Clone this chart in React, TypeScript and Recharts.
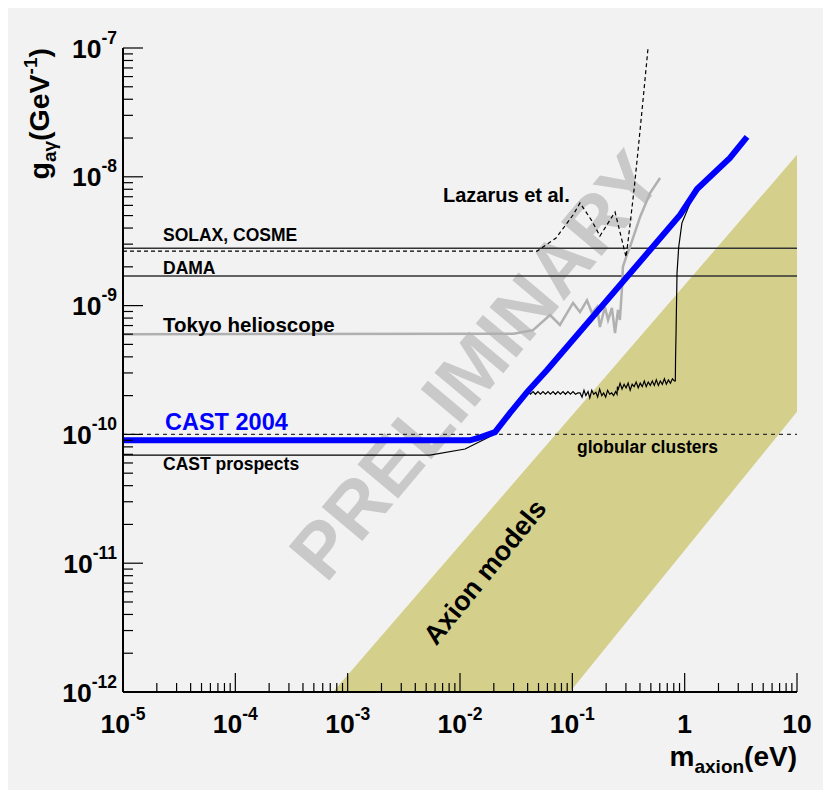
import React from "react";
import {
  ComposedChart,
  Area,
  Line,
  XAxis,
  YAxis,
  ReferenceLine,
  Customized,
} from "recharts";

// axis ticks
const xDecades = [1e-5, 1e-4, 1e-3, 1e-2, 1e-1, 1, 10];
const xTickLabels = [
  ["10", "-5"],
  ["10", "-4"],
  ["10", "-3"],
  ["10", "-2"],
  ["10", "-1"],
  ["1", ""],
  ["10", ""],
];
const yDecades = [1e-12, 1e-11, 1e-10, 1e-9, 1e-8, 1e-7];
const yTickLabels = [
  ["10", "-12"],
  ["10", "-11"],
  ["10", "-10"],
  ["10", "-9"],
  ["10", "-8"],
  ["10", "-7"],
];
const minorFactors = [2, 3, 4, 5, 6, 7, 8, 9];

// horizontal limits (GeV^-1)
const solaxLimit = 2.79e-9;
const damaLimit = 1.7e-9;
const globularLimit = 1.0e-10;

// axion models band: [lower, upper]
const axionBand = [
  { m: 7.4e-4, g: [1e-12, 1e-12] },
  { m: 0.095, g: [1e-12, 1.34e-10] },
  { m: 10, g: [1.5e-10, 1.48e-8] },
];

const castBlue = [
  { m: 1e-5, g: 9.0e-11 },
  { m: 0.0123, g: 9.0e-11 },
  { m: 0.0151, g: 9.5e-11 },
  { m: 0.0205, g: 1.04e-10 },
  { m: 0.0279, g: 1.47e-10 },
  { m: 0.0395, g: 2.13e-10 },
  { m: 0.0596, g: 3.16e-10 },
  { m: 0.492, g: 2.7e-9 },
  { m: 0.91, g: 5.05e-9 },
  { m: 1.29, g: 8.04e-9 },
  { m: 2.53, g: 1.4e-8 },
  { m: 3.59, g: 2.04e-8 },
];

const castProspects = [
  { m: 1e-5, g: 6.9e-11 },
  { m: 0.0054, g: 6.9e-11 },
  { m: 0.0111, g: 7.7e-11 },
  { m: 0.0197, g: 9.9e-11 },
  { m: 0.029, g: 1.6e-10 },
  { m: 0.0395, g: 2.1e-10 },
  { m: 0.0403, g: 2.15e-10 },
  { m: 0.0424, g: 2.05e-10 },
  { m: 0.0447, g: 2.15e-10 },
  { m: 0.047, g: 2.05e-10 },
  { m: 0.0494, g: 2.15e-10 },
  { m: 0.052, g: 2.05e-10 },
  { m: 0.0548, g: 2.15e-10 },
  { m: 0.0577, g: 2.05e-10 },
  { m: 0.0607, g: 2.15e-10 },
  { m: 0.0638, g: 2.05e-10 },
  { m: 0.0673, g: 2.15e-10 },
  { m: 0.0708, g: 2.05e-10 },
  { m: 0.0745, g: 2.15e-10 },
  { m: 0.0783, g: 2.05e-10 },
  { m: 0.0826, g: 2.15e-10 },
  { m: 0.0869, g: 2.05e-10 },
  { m: 0.0914, g: 2.15e-10 },
  { m: 0.0962, g: 2.05e-10 },
  { m: 0.1014, g: 2.15e-10 },
  { m: 0.1067, g: 2.05e-10 },
  { m: 0.1122, g: 2.1e-10 },
  { m: 0.117, g: 2.1e-10 },
  { m: 0.122, g: 1.95e-10 },
  { m: 0.127, g: 2.2e-10 },
  { m: 0.132, g: 2.0e-10 },
  { m: 0.138, g: 2.15e-10 },
  { m: 0.143, g: 1.92e-10 },
  { m: 0.149, g: 2.2e-10 },
  { m: 0.155, g: 2.05e-10 },
  { m: 0.162, g: 2.12e-10 },
  { m: 0.168, g: 1.95e-10 },
  { m: 0.175, g: 2.25e-10 },
  { m: 0.183, g: 2.0e-10 },
  { m: 0.19, g: 2.1e-10 },
  { m: 0.198, g: 1.95e-10 },
  { m: 0.206, g: 2.2e-10 },
  { m: 0.215, g: 2.05e-10 },
  { m: 0.224, g: 2.1e-10 },
  { m: 0.233, g: 2.0e-10 },
  { m: 0.243, g: 2.15e-10 },
  { m: 0.25, g: 2.05e-10 },
  { m: 0.252, g: 2.35e-10 },
  { m: 0.255, g: 2.2e-10 },
  { m: 0.266, g: 2.5e-10 },
  { m: 0.277, g: 2.25e-10 },
  { m: 0.289, g: 2.45e-10 },
  { m: 0.301, g: 2.3e-10 },
  { m: 0.314, g: 2.5e-10 },
  { m: 0.327, g: 2.2e-10 },
  { m: 0.341, g: 2.45e-10 },
  { m: 0.355, g: 2.35e-10 },
  { m: 0.37, g: 2.55e-10 },
  { m: 0.386, g: 2.3e-10 },
  { m: 0.402, g: 2.5e-10 },
  { m: 0.419, g: 2.35e-10 },
  { m: 0.437, g: 2.6e-10 },
  { m: 0.455, g: 2.35e-10 },
  { m: 0.474, g: 2.55e-10 },
  { m: 0.494, g: 2.4e-10 },
  { m: 0.515, g: 2.6e-10 },
  { m: 0.537, g: 2.4e-10 },
  { m: 0.559, g: 2.65e-10 },
  { m: 0.583, g: 2.4e-10 },
  { m: 0.607, g: 2.6e-10 },
  { m: 0.633, g: 2.45e-10 },
  { m: 0.66, g: 2.7e-10 },
  { m: 0.687, g: 2.45e-10 },
  { m: 0.716, g: 2.65e-10 },
  { m: 0.747, g: 2.5e-10 },
  { m: 0.778, g: 2.7e-10 },
  { m: 0.81, g: 2.6e-10 },
  { m: 0.826, g: 2.6e-10 },
  { m: 0.83, g: 4.0e-10 },
  { m: 0.838, g: 6.1e-10 },
  { m: 0.855, g: 1.79e-9 },
  { m: 0.885, g: 2.85e-9 },
  { m: 0.945, g: 4.37e-9 },
  { m: 1.12, g: 6.27e-9 },
  { m: 1.29, g: 8.04e-9 },
];

const lazarus = [
  { m: 1e-5, g: 2.65e-9 },
  { m: 0.0486, g: 2.65e-9 },
  { m: 0.0716, g: 3.35e-9 },
  { m: 0.1014, g: 5.05e-9 },
  { m: 0.117, g: 6.26e-9 },
  { m: 0.1496, g: 4.54e-9 },
  { m: 0.176, g: 3.47e-9 },
  { m: 0.24, g: 5.33e-9 },
  { m: 0.301, g: 2.38e-9 },
  { m: 0.326, g: 4.22e-9 },
  { m: 0.354, g: 7.9e-9 },
  { m: 0.385, g: 1.61e-8 },
  { m: 0.426, g: 3.95e-8 },
  { m: 0.472, g: 1e-7 },
];

const tokyo = [
  { m: 1e-5, g: 6.0e-10 },
  { m: 0.03, g: 6.05e-10 },
  { m: 0.0447, g: 6.45e-10 },
  { m: 0.0633, g: 8.45e-10 },
  { m: 0.0776, g: 7.07e-10 },
  { m: 0.1014, g: 1.05e-9 },
  { m: 0.117, g: 8.91e-10 },
  { m: 0.135, g: 1.1e-9 },
  { m: 0.1496, g: 8.76e-10 },
  { m: 0.166, g: 9.75e-10 },
  { m: 0.176, g: 6.82e-10 },
  { m: 0.195, g: 9.75e-10 },
  { m: 0.208, g: 7.73e-10 },
  { m: 0.225, g: 9.58e-10 },
  { m: 0.24, g: 6.12e-10 },
  { m: 0.255, g: 9.25e-10 },
  { m: 0.265, g: 7.73e-10 },
  { m: 0.277, g: 1.39e-9 },
  { m: 0.282, g: 2.0e-9 },
  { m: 0.307, g: 2.5e-9 },
  { m: 0.326, g: 2.85e-9 },
  { m: 0.401, g: 4.88e-9 },
  { m: 0.492, g: 7.48e-9 },
  { m: 0.604, g: 9.79e-9 },
];

const FONT = "'Liberation Sans', Arial, Helvetica, sans-serif";
const BG = "#f2f2f2";
const W = 823;
const H = 790;
const MARGIN = { top: 40, right: 34, bottom: 0, left: 0 };

const xTicks = [
  ...xDecades,
  ...xDecades.slice(0, -1).flatMap((d) => minorFactors.map((f) => f * d)),
];
const yTicks = [
  ...yDecades,
  ...yDecades.slice(0, -1).flatMap((d) => minorFactors.map((f) => f * d)),
];

const majorIndex = (list: number[], v: number) =>
  list.findIndex((d) => Math.abs(v / d - 1) < 1e-6);

function BottomTick(props: any) {
  const { x, y, payload } = props;
  const i = majorIndex(xDecades, payload.value);
  const len = i >= 0 ? 19 : 9;
  return (
    <g>
      <line x1={x} x2={x} y1={y} y2={y - len} stroke="#000" strokeWidth={1.2} />
      {i >= 0 && (
        <text
          x={x}
          y={y + 41}
          textAnchor="middle"
          fontFamily={FONT}
          fontWeight="bold"
          fontSize={26.5}
          fill="#000"
        >
          {xTickLabels[i][0]}
          {xTickLabels[i][1] && (
            <tspan dy={-13} fontSize={17.5}>
              {xTickLabels[i][1]}
            </tspan>
          )}
        </text>
      )}
    </g>
  );
}

function TopTick(props: any) {
  const { x, y, payload } = props;
  const len = majorIndex(xDecades, payload.value) >= 0 ? 19 : 9;
  return <line x1={x} x2={x} y1={y} y2={y + len} stroke="#000" strokeWidth={1.2} />;
}

function LeftTick(props: any) {
  const { x, y, payload } = props;
  const i = majorIndex(yDecades, payload.value);
  const len = i >= 0 ? 20 : 10;
  return (
    <g>
      <line x1={x} x2={x + len} y1={y} y2={y} stroke="#000" strokeWidth={1.2} />
      {i >= 0 && (
        <text
          x={x - 6}
          y={y + 9.5}
          textAnchor="end"
          fontFamily={FONT}
          fontWeight="bold"
          fontSize={26.5}
          fill="#000"
        >
          {yTickLabels[i][0]}
          <tspan dy={-14} fontSize={17.5}>
            {yTickLabels[i][1]}
          </tspan>
        </text>
      )}
    </g>
  );
}

function RightTick(props: any) {
  const { x, y, payload } = props;
  const len = majorIndex(yDecades, payload.value) >= 0 ? 20 : 10;
  return <line x1={x} x2={x - len} y1={y} y2={y} stroke="#000" strokeWidth={1.2} />;
}

// the same four axes in both layers; only the top layer draws them
function axes(show: boolean) {
  const axisLine = show ? { stroke: "#000", strokeWidth: 2 } : false;
  const common = {
    type: "number" as const,
    scale: "log" as const,
    allowDataOverflow: true,
    interval: 0,
    tickSize: 0,
    tickMargin: 0,
    tickLine: false,
    axisLine,
  };
  return [
    <XAxis
      key="xb"
      xAxisId="b"
      dataKey="m"
      domain={[1e-5, 10]}
      ticks={xTicks}
      tick={show ? <BottomTick /> : false}
      height={106}
      {...common}
    />,
    <XAxis
      key="xt"
      xAxisId="t"
      orientation="top"
      domain={[1e-5, 10]}
      ticks={xTicks}
      tick={show ? <TopTick /> : false}
      height={0}
      {...common}
    />,
    <YAxis
      key="yl"
      yAxisId="l"
      domain={[1e-12, 1e-7]}
      ticks={yTicks}
      tick={show ? <LeftTick /> : false}
      width={115}
      {...common}
    />,
    <YAxis
      key="yr"
      yAxisId="r"
      orientation="right"
      domain={[1e-12, 1e-7]}
      ticks={yTicks}
      tick={show ? <RightTick /> : false}
      width={0}
      {...common}
    />,
  ];
}

const txt = { fontFamily: FONT, fontWeight: "bold" as const, fill: "#000" };

function Watermark() {
  return (
    <text
      x={467}
      y={357}
      textAnchor="middle"
      dominantBaseline="central"
      transform="rotate(-50 467 357)"
      fontFamily={FONT}
      fontWeight="bold"
      fontSize={77}
      fill="#c9c9c9"
    >
      PRELIMINARY
    </text>
  );
}

function Annotations() {
  return (
    <svg
      width={W}
      height={H}
      style={{ position: "absolute", left: 0, top: 0, pointerEvents: "none" }}
    >
      <text x={155} y={233} fontSize={17.5} {...txt}>SOLAX, COSME</text>
      <text x={155} y={266} fontSize={17.5} {...txt}>DAMA</text>
      <text x={155} y={324} fontSize={20.5} {...txt}>Tokyo helioscope</text>
      <text x={435} y={194} fontSize={20} {...txt}>Lazarus et al.</text>
      <text x={157} y={422} fontSize={23.5} {...txt} fill="#0000ff">CAST 2004</text>
      <text x={155} y={462} fontSize={17.5} {...txt}>CAST prospects</text>
      <text x={569} y={445} fontSize={17.5} {...txt}>globular clusters</text>
      <text
        x={477}
        y={564}
        textAnchor="middle"
        dominantBaseline="central"
        transform="rotate(-51 477 564)"
        fontSize={27}
        {...txt}
      >
        Axion models
      </text>
      <text x={789} y={758} textAnchor="end" fontSize={28} {...txt}>
        m
        <tspan dy={7} fontSize={19}>axion</tspan>
        <tspan dy={-7} fontSize={28}>(eV)</tspan>
      </text>
      <text x={41} y={40} textAnchor="end" transform="rotate(-90 41 40)" fontSize={28.5} {...txt}>
        g
        <tspan dy={7} fontSize={19}>aγ</tspan>
        <tspan dy={-7} fontSize={28.5}>(GeV</tspan>
        <tspan dy={-12} fontSize={19}>-1</tspan>
        <tspan dy={12} fontSize={28.5}>)</tspan>
      </text>
    </svg>
  );
}

export default function App() {
  return (
    <div style={{ position: "relative", width: W, height: H, background: BG, marginBottom: -8 }}>
      <ComposedChart width={W} height={H} margin={MARGIN}>
        {axes(false)}
        <Area
          xAxisId="b"
          yAxisId="l"
          data={axionBand}
          dataKey="g"
          type="linear"
          fill="#d4cf8b"
          fillOpacity={1}
          stroke="none"
          isAnimationActive={false}
        />
        <Customized component={<Watermark />} />
        <ReferenceLine xAxisId="b" yAxisId="l" y={solaxLimit} stroke="#333" strokeWidth={1.5} />
        <ReferenceLine xAxisId="b" yAxisId="l" y={damaLimit} stroke="#333" strokeWidth={1.5} />
        <ReferenceLine
          xAxisId="b"
          yAxisId="l"
          y={globularLimit}
          stroke="#333"
          strokeWidth={1.2}
          strokeDasharray="4 4"
        />
        <Line
          xAxisId="b"
          yAxisId="l"
          data={tokyo}
          dataKey="g"
          type="linear"
          stroke="#b0b0b0"
          strokeWidth={2.5}
          dot={false}
          activeDot={false}
          isAnimationActive={false}
        />
        <Line
          xAxisId="b"
          yAxisId="l"
          data={lazarus}
          dataKey="g"
          type="linear"
          stroke="#000"
          strokeWidth={1.2}
          strokeDasharray="4 3"
          dot={false}
          activeDot={false}
          isAnimationActive={false}
        />
        <Line
          xAxisId="b"
          yAxisId="l"
          data={castProspects}
          dataKey="g"
          type="linear"
          stroke="#000"
          strokeWidth={1.2}
          dot={false}
          activeDot={false}
          isAnimationActive={false}
        />
        <Line
          xAxisId="b"
          yAxisId="l"
          data={castBlue}
          dataKey="g"
          type="linear"
          stroke="#0000ff"
          strokeWidth={6}
          dot={false}
          activeDot={false}
          isAnimationActive={false}
        />
      </ComposedChart>
      <div style={{ position: "absolute", left: 0, top: 0, pointerEvents: "none" }}>
        <ComposedChart width={W} height={H} margin={MARGIN}>
          {axes(true)}
        </ComposedChart>
      </div>
      <Annotations />
    </div>
  );
}
